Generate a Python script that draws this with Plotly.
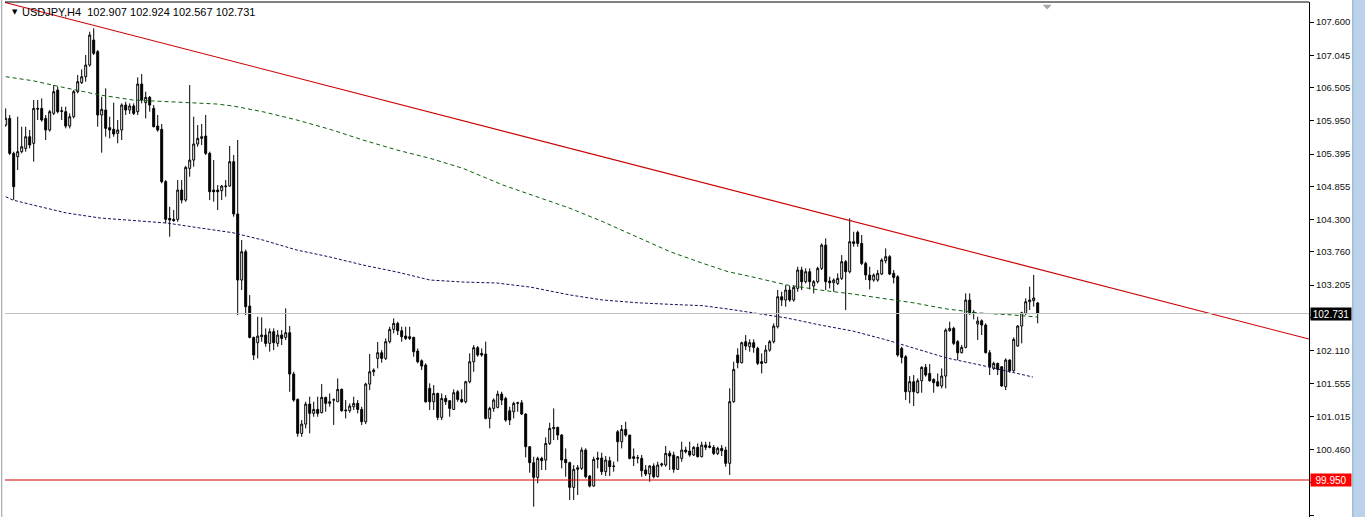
import plotly.graph_objects as go

# ---------------- data (USDJPY H4) ----------------
opens = [105.879,105.990,105.406,105.350,105.434,105.489,105.684,105.573,106.157,106.157,
105.990,105.796,106.074,106.464,106.118,106.102,105.862,106.018,106.436,106.586,
106.686,106.881,107.299,107.104,106.046,106.130,105.835,105.807,105.740,105.796,
106.213,106.130,106.197,106.102,106.564,106.252,106.341,106.157,105.862,105.807,
104.933,104.320,104.304,104.304,104.793,104.626,105.155,105.294,105.562,105.656,
105.695,105.406,104.793,104.793,104.782,104.849,104.860,105.267,104.393,103.290,
103.763,102.855,102.332,102.243,102.343,102.371,102.232,102.427,102.232,102.371,
102.332,102.410,101.720,101.296,100.728,100.884,101.218,101.063,101.129,101.074,
101.330,101.230,101.285,101.257,101.463,101.118,101.107,101.174,101.230,101.129,
100.923,101.552,101.758,101.981,102.076,101.981,102.260,102.466,102.566,102.443,
102.354,102.343,102.332,102.104,101.942,101.870,101.480,101.257,101.396,100.996,
101.313,101.274,101.129,101.424,101.296,101.257,101.591,101.925,102.160,102.065,
102.054,100.979,101.146,101.163,101.385,101.313,101.107,101.090,101.230,101.240,
101.052,100.506,100.239,99.994,100.311,100.283,100.561,100.807,100.829,100.701,
100.294,100.239,99.827,100.128,100.144,100.450,100.016,99.849,100.294,100.317,
100.089,100.272,100.183,100.756,100.589,100.795,100.701,100.339,100.322,100.311,
100.117,100.050,100.183,100.005,100.200,100.200,100.395,100.367,100.128,100.311,
100.450,100.434,100.367,100.495,100.339,100.534,100.517,100.495,100.394,100.478,
100.450,100.228,101.258,102.037,101.909,102.260,102.176,102.243,102.148,101.926,
101.909,102.120,102.260,102.510,103.011,102.956,103.123,102.956,103.151,103.457,
103.262,103.429,103.190,103.262,103.485,103.874,103.273,103.245,103.234,103.318,
103.596,103.429,103.930,104.086,103.902,103.568,103.373,103.290,103.290,103.390,
103.613,103.680,103.401,103.345,102.148,102.009,101.424,101.592,101.408,101.608,
101.831,101.730,101.630,101.592,101.520,101.686,102.444,102.483,102.260,102.076,
102.165,102.956,102.750,102.555,102.610,102.538,102.076,101.814,101.898,101.842,
101.508,101.954,101.775,102.188,102.522,102.733,102.928,102.945,102.907]

highs = [106.157,106.046,105.434,106.018,105.851,105.851,105.796,106.297,106.297,106.325,
106.046,106.130,106.547,106.519,106.185,106.185,106.074,106.464,106.714,106.809,
107.048,107.438,107.494,107.132,106.352,106.492,106.018,106.252,105.963,106.241,
106.269,106.241,106.241,106.675,106.731,106.436,106.364,106.213,106.046,105.896,
104.960,104.515,104.459,104.960,104.960,105.194,106.547,106.018,105.879,105.896,
106.046,105.434,105.294,104.877,104.877,104.960,105.529,105.378,105.629,103.958,
103.800,103.039,102.343,102.677,102.666,102.482,102.482,102.482,102.454,102.454,
102.817,102.521,101.758,101.313,100.951,101.257,101.341,101.257,101.341,101.552,
101.341,101.396,101.313,101.647,101.480,101.285,101.230,101.341,101.285,101.174,
101.575,102.054,101.814,102.254,102.120,102.315,102.510,102.650,102.594,102.510,
102.510,102.510,102.343,102.148,101.964,101.898,101.564,101.536,101.408,101.396,
101.369,101.285,101.463,101.452,101.463,101.608,102.065,102.204,102.187,102.148,
102.260,101.174,101.313,101.441,101.424,101.341,101.174,101.257,101.257,101.285,
101.063,100.517,100.339,100.339,100.339,100.662,100.907,101.146,100.840,100.718,
100.478,100.256,100.200,100.200,100.495,100.478,100.033,100.339,100.422,100.406,
100.350,100.339,100.256,100.784,100.868,100.923,100.701,100.478,100.367,100.367,
100.200,100.200,100.228,100.256,100.239,100.517,100.439,100.422,100.350,100.589,
100.506,100.589,100.517,100.561,100.589,100.589,100.589,100.534,100.506,100.534,
100.506,101.481,101.926,102.149,102.260,102.371,102.299,102.299,102.176,102.065,
102.204,102.288,102.566,103.123,103.095,103.206,103.190,103.206,103.512,103.512,
103.485,103.485,103.290,103.512,103.902,103.986,103.345,103.318,103.401,103.707,
103.624,104.320,104.097,104.114,104.042,103.596,103.512,103.401,103.457,103.652,
103.819,103.707,103.457,103.373,102.176,102.037,101.686,101.703,101.647,101.853,
101.887,101.887,101.647,101.730,101.814,102.483,102.594,102.510,102.288,102.204,
103.067,103.067,102.788,102.677,102.633,102.566,102.121,101.926,101.909,101.853,
101.981,101.965,102.332,102.538,102.761,102.984,103.179,103.374,102.924]

lows = [105.851,105.378,104.629,105.127,105.406,105.434,105.489,105.267,105.963,105.935,
105.629,105.768,106.046,106.074,105.963,105.823,105.823,105.990,106.408,106.564,
106.603,106.853,107.048,105.851,105.417,105.684,105.656,105.684,105.573,105.629,
106.046,106.063,106.046,106.046,106.241,105.990,106.102,105.840,105.768,104.905,
104.237,104.014,104.264,104.264,104.570,104.598,105.016,105.183,105.517,105.545,
105.378,104.626,104.598,104.459,104.626,104.682,104.849,104.348,102.705,103.123,
102.705,102.315,101.953,101.981,102.260,102.176,102.093,102.120,102.176,102.204,
102.288,101.424,101.257,100.673,100.673,100.812,100.728,101.007,101.007,101.063,
101.090,101.174,100.870,101.257,101.090,100.979,101.074,101.118,101.063,100.868,
100.884,101.452,101.686,101.814,101.909,101.953,102.232,102.399,102.371,102.260,
102.288,102.288,102.009,101.898,101.786,101.240,101.118,101.118,100.951,100.951,
101.202,101.007,101.118,101.257,101.240,101.230,101.564,101.758,102.009,102.009,
100.962,100.812,101.090,101.146,101.202,100.923,100.868,100.979,101.090,101.035,
100.328,100.072,99.504,99.894,100.117,100.117,100.534,100.617,100.617,100.144,
100.005,99.615,99.615,99.699,100.117,99.977,99.827,99.838,100.144,100.033,
100.016,100.016,100.089,100.256,100.478,100.673,100.294,100.183,100.228,100.005,
100.016,99.922,99.977,99.994,100.172,100.172,100.117,100.072,100.117,100.256,
100.394,100.339,100.350,100.328,100.328,100.450,100.478,100.367,100.367,100.350,
100.172,100.033,101.241,101.815,101.898,102.120,102.093,102.076,101.870,101.730,
101.898,102.093,102.232,102.482,102.855,102.844,102.928,102.928,103.095,103.123,
103.234,103.134,103.067,103.234,103.457,103.123,103.150,103.095,103.206,103.290,
102.788,103.401,103.846,103.846,103.540,103.290,103.134,103.262,103.262,103.373,
103.568,103.373,103.234,102.009,101.898,101.285,101.230,101.185,101.396,101.408,
101.675,101.592,101.408,101.508,101.480,101.480,102.427,102.204,101.954,102.065,
102.149,102.705,102.633,102.288,102.371,102.065,101.703,101.787,101.703,101.508,
101.453,101.742,101.759,102.176,102.232,102.705,102.789,102.845,102.567]

closes = [105.990,105.406,104.849,105.434,105.517,105.684,105.545,106.157,106.146,105.963,
105.796,106.102,106.436,106.102,106.108,105.862,106.018,106.436,106.603,106.686,
106.881,107.382,107.076,106.046,106.141,105.823,105.796,105.729,105.796,106.213,
106.130,106.197,106.074,106.564,106.297,106.341,106.213,105.851,105.796,104.933,
104.304,104.292,104.281,104.793,104.626,105.172,105.294,105.562,105.656,105.684,
105.406,104.765,104.765,104.765,104.860,104.860,105.267,104.393,103.290,103.763,
102.844,102.332,102.037,102.354,102.371,102.232,102.427,102.243,102.371,102.315,
102.410,101.720,101.285,100.728,100.884,101.218,101.063,101.129,101.063,101.330,
101.230,101.257,101.290,101.463,101.107,101.107,101.185,101.230,101.129,100.923,
101.552,101.758,101.786,102.076,101.981,102.260,102.466,102.566,102.443,102.343,
102.315,102.315,102.093,101.925,101.853,101.257,101.257,101.396,100.996,101.313,
101.257,101.146,101.408,101.296,101.257,101.591,101.925,102.160,102.037,102.037,
100.979,101.146,101.285,101.385,101.285,100.951,100.951,101.230,101.240,101.052,
100.506,100.239,99.994,100.311,100.272,100.561,100.812,100.829,100.701,100.283,
100.239,99.827,100.128,100.155,100.450,100.005,99.849,100.294,100.317,100.089,
100.283,100.172,100.178,100.589,100.795,100.701,100.311,100.311,100.317,100.105,
100.050,100.183,100.005,100.200,100.217,100.395,100.350,100.128,100.339,100.450,
100.422,100.367,100.495,100.339,100.534,100.495,100.495,100.394,100.478,100.439,
100.228,101.258,101.798,101.909,102.243,102.187,102.243,102.165,101.898,101.898,
102.120,102.260,102.521,103.011,102.956,103.123,102.956,103.167,103.457,103.262,
103.429,103.262,103.262,103.485,103.874,103.262,103.245,103.290,103.318,103.596,
103.429,103.930,103.902,103.902,103.568,103.373,103.290,103.373,103.401,103.624,
103.680,103.390,103.334,102.037,101.998,101.424,101.592,101.424,101.608,101.831,
101.703,101.608,101.575,101.520,101.686,102.455,102.483,102.232,102.076,102.165,
102.956,102.744,102.744,102.605,102.538,102.076,101.842,101.898,101.798,101.520,
101.954,101.775,102.299,102.522,102.744,102.928,102.956,102.990,102.731]

bars = list(range(len(closes)))

# moving averages (read at sample bars)
ma_slow_x = [0, 6.8, 13.6, 19.3, 23.6, 31.8, 37.8, 45.3, 52.8, 56.8, 64.3, 72.8, 81.1, 89.3,
             97.8, 106.1, 114.3, 124.3, 132.8, 141.1, 149.3, 157.8, 166.1, 174.3, 180.6,
             186.8, 195.3, 203.6, 211.8, 220.3, 226.8, 235.3, 243.6, 251.8, 258]
ma_slow_y = [106.686, 106.619, 106.519, 106.435, 106.380, 106.297, 106.280, 106.252, 106.230,
             106.197, 106.101, 105.963, 105.807, 105.629, 105.462, 105.323, 105.156, 104.877,
             104.682, 104.488, 104.264, 104.013, 103.763, 103.569, 103.429, 103.340, 103.207,
             103.123, 103.056, 102.973, 102.911, 102.806, 102.739, 102.706, 102.672]

ma_fast_x = [0, 1.8, 6.8, 15.3, 23.6, 31.8, 40.3, 48.6, 56.8, 64.3, 72.8, 81.1, 89.3, 97.8,
             106.1, 114.3, 122.8, 131.1, 141.1, 149.3, 157.8, 166.1, 174.3, 180.6, 186.8,
             195.3, 203.6, 211.8, 220.3, 226.8, 235.3, 243.6, 251.8, 256.8]
ma_fast_y = [104.682, 104.626, 104.543, 104.409, 104.326, 104.281, 104.242, 104.159, 104.080,
             103.958, 103.791, 103.674, 103.541, 103.424, 103.290, 103.257, 103.240, 103.173,
             103.040, 102.956, 102.911, 102.884, 102.861, 102.806, 102.739, 102.656, 102.539,
             102.438, 102.288, 102.154, 101.987, 101.871, 101.754, 101.670]

trend_x = [-0.2, 325.8]
trend_y = [107.926, 102.305]

support_level = 99.950
bid_price = 102.731

# tick levels; the two hidden behind the price boxes carry no label
tick_vals = [107.600, 107.045, 106.505, 105.950, 105.395, 104.855, 104.300, 103.760,
             103.205, 102.665, 102.110, 101.555, 101.015, 100.460, 99.905, 99.365]
tick_text = ["107.600", "107.045", "106.505", "105.950", "105.395", "104.855", "104.300",
             "103.760", "103.205", "", "102.110", "101.555", "101.015", "100.460",
             "", "99.365"]

title_text = "USDJPY,H4&nbsp;&nbsp;102.907 102.924 102.567 102.731"

# ---------------- figure ----------------
FONT = "Liberation Sans, Arial, sans-serif"
fig = go.Figure()

fig.add_trace(go.Scatter(x=ma_slow_x, y=ma_slow_y, mode="lines",
                         line=dict(color="#0d5e0d", width=1, dash="4px,3px"),
                         hoverinfo="skip"))
fig.add_trace(go.Scatter(x=ma_fast_x, y=ma_fast_y, mode="lines",
                         line=dict(color="#10105a", width=1, dash="3px,2px"),
                         hoverinfo="skip"))

fig.add_trace(go.Candlestick(
    x=bars, open=opens, high=highs, low=lows, close=closes,
    increasing=dict(line=dict(color="black", width=1), fillcolor="white"),
    decreasing=dict(line=dict(color="black", width=1), fillcolor="black"),
    whiskerwidth=0, hoverinfo="skip"))

fig.add_trace(go.Scatter(x=trend_x, y=trend_y, mode="lines",
                         line=dict(color="#cc0000", width=1.1), hoverinfo="skip"))

fig.add_hline(y=support_level, line=dict(color="#d00000", width=1))
fig.add_hline(y=bid_price, line=dict(color="#c0c0c0", width=1))

fig.update_layout(
    width=1365, height=517,
    margin=dict(l=5, r=56, t=2, b=0),
    paper_bgcolor="white", plot_bgcolor="white",
    showlegend=False,
    font=dict(family=FONT, size=9, color="black"),
    xaxis=dict(range=[-0.175, 325.825], visible=False, rangeslider=dict(visible=False),
               fixedrange=True),
    yaxis=dict(range=[99.332, 107.934], side="right", tickvals=tick_vals, ticktext=tick_text,
               ticks="outside", ticklen=4, tickcolor="black", tickwidth=1,
               showline=True, linecolor="black", linewidth=1, showgrid=False, zeroline=False,
               tickfont=dict(family=FONT, size=9.5, color="#111111"), fixedrange=True),
    hovermode=False,
)

# frame: top and left
fig.add_shape(type="line", xref="paper", yref="paper", x0=0, x1=1, y0=1, y1=1,
              line=dict(color="black", width=1))
fig.add_shape(type="line", xref="paper", yref="paper", x0=-0.0025, x1=-0.0025, y0=0, y1=1.01,
              line=dict(color="#9a9a9a", width=1))
# shift marker triangle near top
fig.add_shape(type="path", xref="paper", yref="paper",
              path="M 0.7958 0.9945 L 0.8027 0.9945 L 0.7992 0.9855 Z",
              fillcolor="#a8a8a8", line=dict(width=0))
# scrollbar strip at far right
fig.add_shape(type="rect", xref="paper", yref="paper", x0=1.0334, x1=1.045, y0=-0.01, y1=1.01,
              fillcolor="#bad2ea", line=dict(width=0), layer="above")
fig.add_shape(type="line", xref="paper", yref="paper", x0=1.0336, x1=1.0336, y0=-0.01, y1=1.01,
              line=dict(color="#8aa8c8", width=1))

# header
fig.add_annotation(xref="paper", yref="paper", x=0.0035, y=0.993, xanchor="left", yanchor="top",
                   text="\u25BC", showarrow=False, font=dict(family="DejaVu Sans", size=7, color="black"))
fig.add_annotation(xref="paper", yref="paper", x=0.0115, y=0.996, xanchor="left", yanchor="top",
                   text=title_text, showarrow=False, font=dict(family=FONT, size=11, color="black"))

# price labels on axis
fig.add_annotation(xref="paper", yref="y", x=1.0005, y=bid_price, xanchor="left", yanchor="middle",
                   text="102.731", showarrow=False, bgcolor="black", width=40, height=12,
                   align="center", font=dict(family=FONT, size=10, color="white"), borderpad=0)
fig.add_annotation(xref="paper", yref="y", x=1.0005, y=support_level, xanchor="left", yanchor="middle",
                   text="99.950", showarrow=False, bgcolor="#ff0000", width=40, height=12,
                   align="center", font=dict(family=FONT, size=10, color="white"), borderpad=0)

fig.write_html("out.html", config={"displayModeBar": False})
